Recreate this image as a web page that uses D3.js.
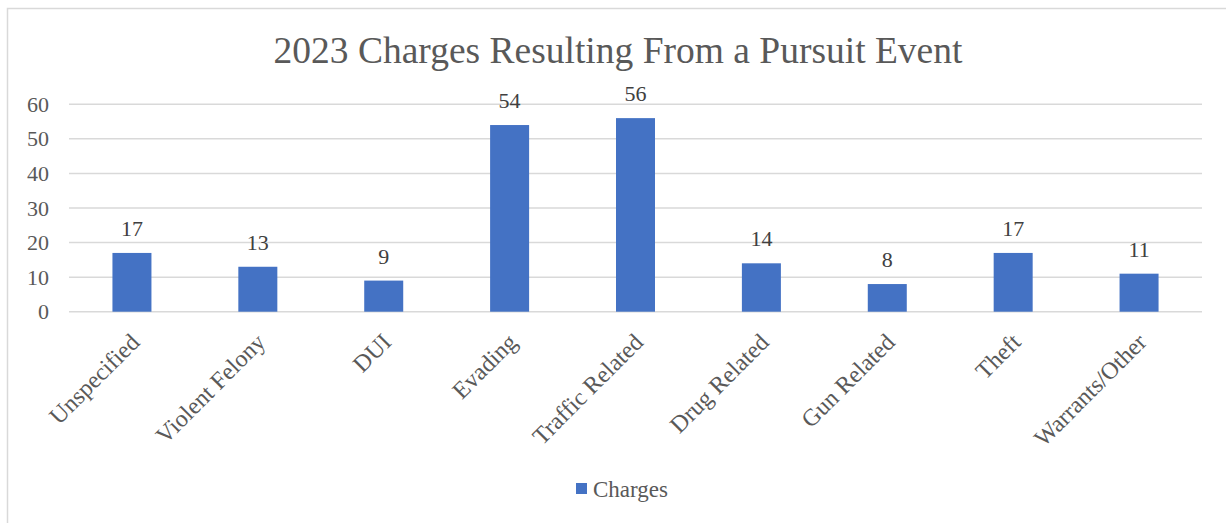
<!DOCTYPE html>
<html lang="en">
<head>
<meta charset="utf-8">
<title>2023 Charges Resulting From a Pursuit Event</title>
<script src="https://d3js.org/d3.v7.min.js"></script>
<style>
  body{margin:0;background:#fff;}
  svg{display:block;font-family:"Liberation Serif","Times New Roman",serif;}
</style>
</head>
<body>
<div id="chart"></div>
<script>
// data
var categories = ["Unspecified","Violent Felony","DUI","Evading","Traffic Related",
                  "Drug Related","Gun Related","Theft","Warrants/Other"]
var charges = [17,13,9,54,56,14,8,17,11]
var yTicks = [0,10,20,30,40,50,60]
var seriesName = "Charges"
var title = "2023 Charges Resulting From a Pursuit Event"

var w = 1226, h = 523
var plotLeft = 69, plotRight = 1202, plotTop = 104.3, plotBottom = 311.7

var svg = d3.select("#chart").append("svg")
    .attr("width", w).attr("height", h)

// chart area border
svg.append("rect")
    .attr("x", 7.5).attr("y", 8.5)
    .attr("width", w + 20).attr("height", h + 20)
    .attr("fill", "none").attr("stroke", "#d9d9d9").attr("stroke-width", 1.5)

svg.append("text")
    .attr("x", 618).attr("y", 63)
    .attr("text-anchor", "middle")
    .attr("font-size", 37.5)
    .attr("fill", "#595959")
    .text(title)

var xScale = d3.scaleBand().domain(categories).range([plotLeft, plotRight]).paddingInner(0).paddingOuter(0)
var yScale = d3.scaleLinear().domain([0, 60]).range([plotBottom, plotTop])
var barW = 39

// gridlines
svg.append("g").selectAll("line")
    .data(yTicks)
    .enter().append("line")
    .attr("x1", plotLeft).attr("x2", plotRight)
    .attr("y1", function(d){ return yScale(d) })
    .attr("y2", function(d){ return yScale(d) })
    .attr("stroke", "#d9d9d9").attr("stroke-width", 1.5)

// y axis labels
var yAxis = d3.axisLeft(yScale).tickValues(yTicks).tickSize(0).tickPadding(0)
var yg = svg.append("g")
    .attr("transform", "translate(49,0)")
    .call(yAxis)
yg.select(".domain").remove()
yg.selectAll("text")
    .attr("font-family", "Liberation Serif")
    .attr("font-size", 22)
    .attr("fill", "#595959")

// bars
svg.selectAll("rect.bar")
    .data(charges)
    .enter().append("rect")
    .attr("class", "bar")
    .attr("x", function(d, i){ return xScale(categories[i]) + xScale.bandwidth()/2 - barW/2 })
    .attr("y", function(d){ return yScale(d) })
    .attr("width", barW)
    .attr("height", function(d){ return plotBottom - yScale(d) })
    .attr("fill", "#4472c4")

// data labels
svg.selectAll("text.lbl")
    .data(charges)
    .enter().append("text")
    .attr("class", "lbl")
    .attr("x", function(d, i){ return xScale(categories[i]) + xScale.bandwidth()/2 })
    .attr("y", function(d){ return yScale(d) - 17 })
    .attr("text-anchor", "middle")
    .attr("font-size", 22)
    .attr("fill", "#404040")
    .text(function(d){ return d })

// category labels, rotated
var xAxis = d3.axisBottom(xScale).tickSize(0).tickPadding(0)
var xg = svg.append("g")
    .attr("transform", "translate(0," + plotBottom + ")")
    .call(xAxis)
xg.select(".domain").remove()
xg.selectAll("text")
    .attr("font-family", "Liberation Serif")
    .attr("font-size", 24)
    .attr("fill", "#595959")
    .attr("text-anchor", "end")
    .attr("dy", "0.35em")
    .attr("y", 0)
    .attr("transform", "translate(3,26) rotate(-45)")

// legend
var lg = svg.append("g").attr("transform", "translate(576,483)")
lg.append("rect").attr("width", 11).attr("height", 11).attr("fill", "#4472c4")
lg.append("text").attr("x", 17).attr("y", 14)
    .attr("font-size", 23).attr("fill", "#595959")
    .text(seriesName)
</script>
</body>
</html>
